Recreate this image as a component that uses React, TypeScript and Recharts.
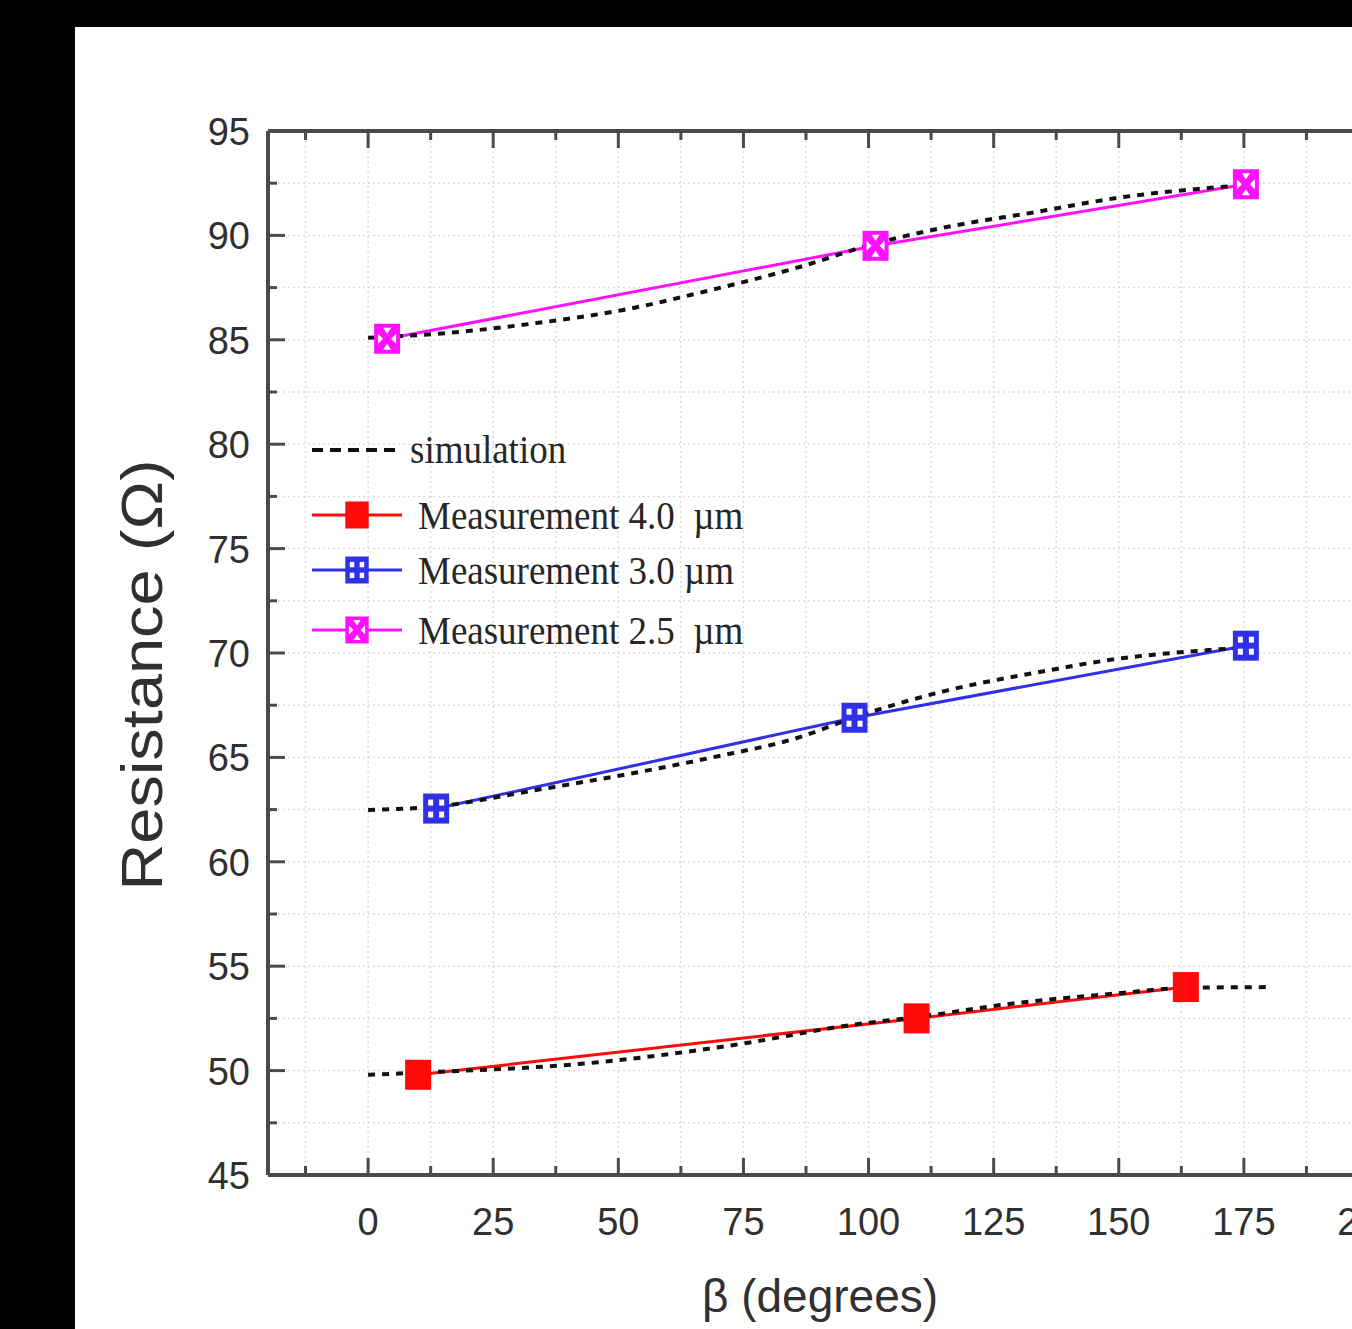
import React from 'react';
import { LineChart, Line, XAxis, YAxis, CartesianGrid } from 'recharts';

// ---------- data ----------
const sim40 = [
  { x: 0, y: 49.8 }, { x: 10, y: 49.9 }, { x: 46, y: 50.4 }, { x: 75, y: 51.3 },
  { x: 96.4, y: 52.18 }, { x: 109.8, y: 52.57 }, { x: 129.8, y: 53.24 },
  { x: 149.8, y: 53.7 }, { x: 163, y: 53.96 }, { x: 180, y: 54.0 },
];
const sim30 = [
  { x: 0, y: 62.48 }, { x: 13.6, y: 62.65 }, { x: 33.6, y: 63.44 }, { x: 51, y: 64.16 },
  { x: 68.8, y: 65.0 }, { x: 86.4, y: 65.98 }, { x: 97, y: 66.9 }, { x: 115.6, y: 68.2 },
  { x: 133, y: 69.04 }, { x: 151, y: 69.76 }, { x: 168, y: 70.14 }, { x: 178, y: 70.3 },
];
const sim25 = [
  { x: 0, y: 85.1 }, { x: 16, y: 85.33 }, { x: 33.6, y: 85.8 }, { x: 51, y: 86.43 },
  { x: 68.8, y: 87.4 }, { x: 86.4, y: 88.5 }, { x: 100.4, y: 89.55 }, { x: 115.6, y: 90.4 },
  { x: 133, y: 91.1 }, { x: 151, y: 91.84 }, { x: 168, y: 92.27 }, { x: 178, y: 92.45 },
];
const meas40 = [{ x: 10, y: 49.8 }, { x: 109.6, y: 52.5 }, { x: 163.4, y: 54.0 }];
const meas30 = [{ x: 13.6, y: 62.55 }, { x: 97.2, y: 66.9 }, { x: 175.4, y: 70.35 }];
const meas25 = [{ x: 3.8, y: 85.05 }, { x: 101.4, y: 89.5 }, { x: 175.4, y: 92.45 }];

const xTicks = [-12.5, 0, 12.5, 25, 37.5, 50, 62.5, 75, 87.5, 100, 112.5, 125, 137.5, 150, 162.5, 175, 187.5, 200];
const xLabels = [0, 25, 50, 75, 100, 125, 150, 175, 200];
const yTicks = [45, 47.5, 50, 52.5, 55, 57.5, 60, 62.5, 65, 67.5, 70, 72.5, 75, 77.5, 80, 82.5, 85, 87.5, 90, 92.5, 95];
const yLabels = [45, 50, 55, 60, 65, 70, 75, 80, 85, 90, 95];

const legendLabels = ['simulation', 'Measurement 4.0  µm', 'Measurement 3.0 µm', 'Measurement 2.5  µm'];
const xTitle = 'β (degrees)';
const yTitle = 'Resistance (Ω)';

// ---------- styles ----------
const AXIS = '#4a4a4a';
const TXT = '#303030';
const RED = '#ff0a0a';
const BLUE = '#3030e8';
const MAG = '#ff10ff';
const SANS = '"Liberation Sans", Arial, sans-serif';
const SERIF = '"Liberation Serif", "Times New Roman", serif';

// ---------- markers ----------
const drawMarker = (kind: string, cx: number, cy: number, key?: any, s: number = 1) => {
  const w = 26 * s, h = 30 * s;
  if (kind === 'red') {
    return <g key={key}><rect x={cx - w / 2} y={cy - h / 2} width={w} height={h} fill={RED} /></g>;
  }
  if (kind === 'blue') {
    return (
      <g key={key} transform={`translate(${cx},${cy}) scale(${s})`}>
        <rect x={-13} y={-15} width={26} height={30} fill={BLUE} />
        <rect x={-8} y={-9} width={5} height={6} fill="#fff" />
        <rect x={3} y={-9} width={5} height={6} fill="#fff" />
        <rect x={-8} y={3} width={5} height={6} fill="#fff" />
        <rect x={3} y={3} width={5} height={6} fill="#fff" />
      </g>
    );
  }
  return (
    <g key={key} transform={`translate(${cx},${cy}) scale(${s})`}>
      <rect x={-13} y={-15} width={26} height={30} fill={MAG} />
      <polygon points="-4,-11 4,-11 0,-5" fill="#fff" />
      <polygon points="-4,11 4,11 0,5" fill="#fff" />
      <polygon points="-9,-5 -9,5 -4,0" fill="#fff" />
      <polygon points="9,-5 9,5 4,0" fill="#fff" />
    </g>
  );
};
const dotFor = (kind: string) => (p: any) => drawMarker(kind, p.cx, p.cy, p.key ?? `${kind}-${p.index}`);

// ---------- ticks ----------
const BottomTick = (p: any) => {
  const { x, y, payload } = p;
  const major = xLabels.includes(payload.value);
  return (
    <g>
      <line x1={x} x2={x} y1={y} y2={y - (major ? 17 : 9)} stroke={AXIS} strokeWidth={3} />
      {major && (
        <text x={x} y={y + 60} textAnchor="middle" fontFamily={SANS} fontSize={38} fill={TXT}>
          {payload.value}
        </text>
      )}
    </g>
  );
};
const TopTick = (p: any) => {
  const { x, y, payload } = p;
  const major = xLabels.includes(payload.value);
  return <line x1={x} x2={x} y1={y} y2={y + (major ? 17 : 9)} stroke={AXIS} strokeWidth={3} />;
};
const LeftTick = (p: any) => {
  const { x, y, payload } = p;
  const major = yLabels.includes(payload.value);
  return (
    <g>
      <line x1={x} x2={x + (major ? 17 : 9)} y1={y} y2={y} stroke={AXIS} strokeWidth={3} />
      {major && (
        <text x={x - 18} y={y + 14} textAnchor="end" fontFamily={SANS} fontSize={38} fill={TXT}>
          {payload.value}
        </text>
      )}
    </g>
  );
};
const RightTick = (p: any) => {
  const { x, y, payload } = p;
  const major = yLabels.includes(payload.value);
  return <line x1={x} x2={x - (major ? 17 : 9)} y1={y} y2={y} stroke={AXIS} strokeWidth={3} />;
};

// ---------- legend ----------
const LegendOverlay = () => {
  const rows = [
    { kind: 'sim', y: 450, tx: 410, base: 463 },
    { kind: 'red', y: 515, tx: 418, base: 529 },
    { kind: 'blue', y: 570, tx: 418, base: 584 },
    { kind: 'mag', y: 630, tx: 418, base: 644 },
  ];
  const colors: Record<string, string> = { red: RED, blue: BLUE, mag: MAG };
  return (
    <>
      {rows.map((r, i) => (
        <g key={i}>
          {r.kind === 'sim' ? (
            <line x1={312} x2={402} y1={r.y} y2={r.y} stroke="#111" strokeWidth={4} strokeDasharray="11 7" />
          ) : (
            <>
              <line x1={312} x2={402} y1={r.y} y2={r.y} stroke={colors[r.kind]} strokeWidth={3} />
              {drawMarker(r.kind, 357, r.y, undefined, 0.9)}
            </>
          )}
          <text
            transform={`translate(${r.tx},${r.base}) scale(1,1.1)`}
            fontFamily={SERIF}
            fontSize={37}
            fill="#262626"
            style={{ whiteSpace: 'pre' }}
          >
            {legendLabels[i]}
          </text>
        </g>
      ))}
    </>
  );
};

export default function App() {
  const W = 1420;
  const H = 1329;
  return (
    <div style={{ position: 'fixed', left: 0, top: 0, width: 1352, height: 1329, background: '#000', overflow: 'hidden' }}>
      <div style={{ position: 'absolute', left: 75, top: 27, width: 1400, height: 1310, background: '#fff' }} />
      <div style={{ position: 'absolute', left: 0, top: 0 }}>
        <LineChart width={W} height={H} margin={{ top: 130, left: 267, right: W - 1370, bottom: H - 1176 }}>
          <CartesianGrid
            stroke="#dcdcdc"
            strokeDasharray="2 3"
            strokeWidth={1.5}
            verticalValues={xTicks}
            horizontalValues={yTicks}
          />
          <XAxis
            xAxisId={0}
            type="number"
            dataKey="x"
            domain={[-20, 200]}
            ticks={xTicks}
            interval={0}
            height={1}
            tickSize={0}
            tickMargin={0}
            tickLine={false}
            axisLine={{ stroke: AXIS, strokeWidth: 4 }}
            tick={BottomTick}
            allowDataOverflow
          />
          <XAxis
            xAxisId="top"
            orientation="top"
            type="number"
            dataKey="x"
            domain={[-20, 200]}
            ticks={xTicks}
            interval={0}
            height={1}
            tickSize={0}
            tickMargin={0}
            tickLine={false}
            axisLine={{ stroke: AXIS, strokeWidth: 4 }}
            tick={TopTick}
            allowDataOverflow
          />
          <YAxis
            yAxisId={0}
            type="number"
            domain={[45, 95]}
            ticks={yTicks}
            interval={0}
            width={1}
            tickSize={0}
            tickMargin={0}
            tickLine={false}
            axisLine={{ stroke: AXIS, strokeWidth: 4 }}
            tick={LeftTick}
            allowDataOverflow
          />
          <YAxis
            yAxisId="right"
            orientation="right"
            type="number"
            domain={[45, 95]}
            ticks={yTicks}
            interval={0}
            width={1}
            tickSize={0}
            tickMargin={0}
            tickLine={false}
            axisLine={{ stroke: AXIS, strokeWidth: 4 }}
            tick={RightTick}
            allowDataOverflow
          />
          <Line data={meas40} dataKey="y" type="linear" stroke={RED} strokeWidth={3} dot={dotFor('red')} isAnimationActive={false} />
          <Line data={meas30} dataKey="y" type="linear" stroke={BLUE} strokeWidth={3} dot={dotFor('blue')} isAnimationActive={false} />
          <Line data={meas25} dataKey="y" type="linear" stroke={MAG} strokeWidth={3} dot={dotFor('mag')} isAnimationActive={false} />
          <Line data={sim40} dataKey="y" type="monotone" stroke="#111" strokeWidth={4} strokeDasharray="7 7" dot={false} isAnimationActive={false} />
          <Line data={sim30} dataKey="y" type="monotone" stroke="#111" strokeWidth={4} strokeDasharray="7 7" dot={false} isAnimationActive={false} />
          <Line data={sim25} dataKey="y" type="monotone" stroke="#111" strokeWidth={4} strokeDasharray="7 7" dot={false} isAnimationActive={false} />
        </LineChart>
      </div>
      <svg width={1352} height={1329} style={{ position: 'absolute', left: 0, top: 0, pointerEvents: 'none' }}>
        <LegendOverlay />
        <text transform="translate(162,675) rotate(-90) scale(1.12,1)" textAnchor="middle" fontFamily={SANS} fontSize={58} fill={TXT}>
          {yTitle}
        </text>
        <text x={820} y={1312} textAnchor="middle" fontFamily={SANS} fontSize={46} fill={TXT}>
          {xTitle}
        </text>
      </svg>
    </div>
  );
}
